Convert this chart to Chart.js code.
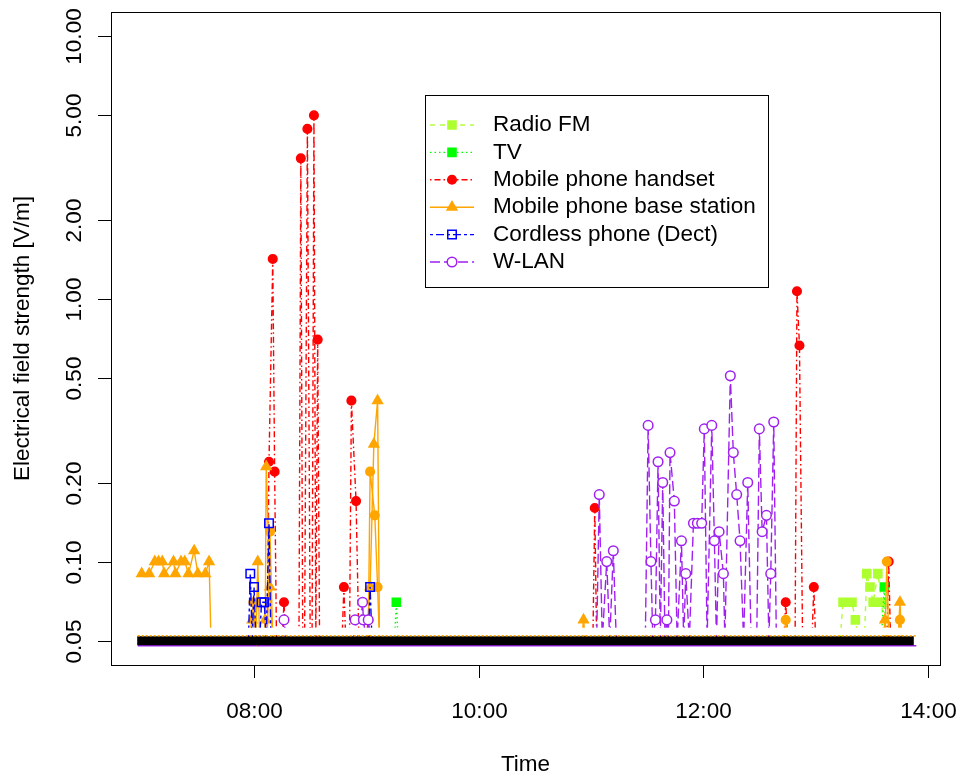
<!DOCTYPE html>
<html>
<head>
<meta charset="utf-8">
<script src="https://cdn.jsdelivr.net/npm/chart.js@4.4.1/dist/chart.umd.min.js"></script>
<style>
  html, body { margin: 0; padding: 0; background: #fff; }
  #chart { display: block; }
</style>
</head>
<body>
<canvas id="chart" width="956" height="776"></canvas>
<script>
/* ====== DATA ====== */
const yTickValues = [0.05, 0.1, 0.2, 0.5, 1, 2, 5, 10];
const yTickLabels = ['0.05', '0.10', '0.20', '0.50', '1.00', '2.00', '5.00', '10.00'];
const xTickTimes = ['08:00', '10:00', '12:00', '14:00'];

const seriesNames = ['Radio FM', 'TV', 'Mobile phone handset', 'Mobile phone base station',
  'Cordless phone (Dect)', 'W-LAN'];

// measurement span, every series sits at the 0.05 floor there
const floorTimes = ['07:00', '13:50'];
const floorValues = [0.05, 0.05];

const radioTimes = ['07:00', '13:13', '13:14:36', '13:19:24', '13:21:12', '13:23', '13:26', '13:27:18',
  '13:29', '13:30:42', '13:33:12', '13:35:24', '13:36', '13:50'];
const radioValues = [0.05, 0.05, 0.07, 0.07, 0.06, 0.05, 0.05, 0.09, 0.08, 0.07, 0.09, 0.07, 0.05, 0.05];

const tvTimes = ['07:00', '09:15', '09:16', '09:17', '13:35', '13:36:42', '13:37:30', '13:50'];
const tvValues = [0.05, 0.05, 0.07, 0.05, 0.05, 0.08, 0.05, 0.05];

const handsetTimes = ['07:00', '08:07', '08:08', '08:10', '08:11', '08:12', '08:15', '08:16', '08:17',
  '08:24', '08:25', '08:26', '08:27', '08:28:30', '08:30', '08:31', '08:32', '08:33', '08:34', '08:35',
  '08:47', '08:48', '08:49', '08:51', '08:52', '08:54:30', '08:56', '09:00', '09:01', '09:02',
  '11:01', '11:02', '11:03', '12:43', '12:44', '12:45', '12:49', '12:50', '12:51:20', '12:53',
  '12:58', '12:59', '13:00', '13:38', '13:39', '13:40', '13:50'];
const handsetValues = [0.05, 0.05, 0.24, 1.42, 0.22, 0.05, 0.05, 0.07, 0.05,
  0.05, 3.43, 0.05, 0.05, 4.44, 0.05, 0.05, 5.0, 0.05, 0.70, 0.05,
  0.05, 0.08, 0.05, 0.05, 0.41, 0.17, 0.05, 0.05, 0.06, 0.05,
  0.05, 0.16, 0.05, 0.05, 0.07, 0.05, 0.05, 1.07, 0.665, 0.05,
  0.05, 0.08, 0.05, 0.05, 0.10, 0.05, 0.05];

const baseTimes = ['07:00', '07:04', '07:07', '07:09', '07:11', '07:12', '07:17', '07:18', '07:21',
  '07:23', '07:25', '07:28', '07:30', '07:34', '07:36', '07:37', '07:57', '07:59', '08:01', '08:02',
  '08:03', '08:05', '08:06', '08:06:30', '08:08:30', '08:10', '09:00', '09:02', '09:04', '09:06',
  '09:07', '10:55', '10:56', '10:57', '13:36', '13:37', '13:38', '13:44', '13:45', '13:46', '13:50'];
const baseValues = [0.09, 0.09, 0.10, 0.10, 0.10, 0.09, 0.10, 0.09, 0.10,
  0.10, 0.09, 0.11, 0.09, 0.09, 0.10, 0.05, 0.05, 0.06, 0.05, 0.10,
  0.05, 0.05, 0.06, 0.23, 0.08, 0.05, 0.05, 0.08, 0.28, 0.41,
  0.05, 0.05, 0.06, 0.05, 0.05, 0.06, 0.05, 0.05, 0.07, 0.05, 0.05];

// orange filled dots that are not in the legend
const baseDotTimes = ['07:00', '07:58', '07:59:36', '08:01', '08:07', '08:08:30', '08:10', '09:01',
  '09:02', '09:04:30', '09:06', '09:07', '12:43', '12:44', '12:45', '13:37', '13:38', '13:39',
  '13:44', '13:45', '13:46', '13:50'];
const baseDotValues = [0.05, 0.05, 0.07, 0.05, 0.05, 0.13, 0.05, 0.05,
  0.22, 0.15, 0.08, 0.05, 0.05, 0.06, 0.05, 0.05, 0.10, 0.05,
  0.05, 0.06, 0.05, 0.05];

const dectTimes = ['07:00', '07:57', '07:58', '07:59', '08:00', '08:01', '08:03', '08:04', '08:05:30',
  '08:06:30', '08:08', '08:09', '09:01', '09:02', '09:03', '13:50'];
const dectValues = [0.05, 0.05, 0.09, 0.05, 0.08, 0.05, 0.05, 0.07, 0.07,
  0.05, 0.14, 0.05, 0.05, 0.08, 0.05, 0.05];

const wlanTimes = ['07:00', '08:15', '08:16', '08:17', '08:53', '08:54', '08:56', '08:58', '08:58:24',
  '09:00', '09:01', '09:02', '11:03', '11:04:24', '11:06', '11:08:24', '11:10', '11:11:54', '11:13:30',
  '11:29', '11:30:30', '11:32', '11:33', '11:34:24', '11:35:48', '11:37', '11:38:18', '11:39:30',
  '11:40:30', '11:41:20', '11:42:12', '11:44:30', '11:46', '11:48:18', '11:49:30', '11:50:36',
  '11:52:30', '11:54:42', '11:56:48', '11:59:06', '12:00:30', '12:02', '12:04:30', '12:05:54',
  '12:07', '12:08:24', '12:10:42', '12:11:30', '12:14:24', '12:16', '12:17:48', '12:19:36',
  '12:21:30', '12:23:42', '12:25:30', '12:28:30', '12:29:54', '12:31:24', '12:33:42', '12:35',
  '12:36', '12:37:36', '12:39', '13:50'];
const wlanValues = [0.05, 0.05, 0.06, 0.05, 0.05, 0.06, 0.05, 0.07, 0.06,
  0.05, 0.06, 0.05, 0.05, 0.18, 0.05, 0.10, 0.05, 0.11, 0.05,
  0.05, 0.33, 0.10, 0.05, 0.06, 0.24, 0.05, 0.20, 0.05,
  0.06, 0.05, 0.26, 0.17, 0.05, 0.12, 0.05, 0.09,
  0.05, 0.14, 0.14, 0.14, 0.32, 0.05, 0.33, 0.12,
  0.05, 0.13, 0.09, 0.05, 0.51, 0.26, 0.18, 0.12,
  0.05, 0.20, 0.05, 0.05, 0.32, 0.13, 0.15, 0.05,
  0.09, 0.34, 0.05, 0.05];

/* ====== HELPERS ====== */
function toMin(s) {
  const p = s.split(':').map(Number);
  return p[0] * 60 + p[1] + (p[2] || 0) / 60;
}
function pts(times, values) {
  return times.map((t, i) => ({ x: toMin(t), y: values[i] }));
}
// markers on the 0.05 floor are hidden under the black band anyway
const markerSize = (r) => (c) => (c.raw && c.raw.y <= 0.05 ? 0 : r);

const FONT = '22.5px "Liberation Sans", Arial, sans-serif';

const styles = [
  { color: '#ADFF2F', dash: [5, 5], style: 'rect', r: 5.7, fill: '#ADFF2F' },
  { color: '#00FF00', dash: [1.5, 3], style: 'rect', r: 5.7, fill: '#00FF00' },
  { color: '#FF0000', dash: [1.5, 3, 6, 3], style: 'circle', r: 4.3, fill: '#FF0000' },
  { color: '#FFA500', dash: [], style: 'triangle', r: 5.6, fill: '#FFA500' },
  { color: '#0000FF', dash: [3, 3, 8, 3], style: 'rect', r: 6, fill: 'rgba(0,0,0,0)' },
  { color: '#A020F0', dash: [10, 4], style: 'circle', r: 4.8, fill: '#FFFFFF' },
];

function lineSet(label, data, st, order) {
  return {
    label, data, order,
    borderColor: st.color,
    borderWidth: 1.4,
    borderDash: st.dash,
    pointStyle: st.style,
    pointRadius: markerSize(st.r),
    pointBackgroundColor: st.fill,
    pointBorderColor: st.color,
    pointBorderWidth: 1.5,
    pointHoverRadius: 0,
    tension: 0,
    fill: false,
  };
}

const baseDotStyle = { color: '#FFA500', dash: [], style: 'circle', r: 4.3, fill: '#FFA500' };

const datasets = [
  {
    label: 'floor', data: pts(floorTimes, floorValues), order: 0,
    borderColor: '#000', borderWidth: 9, borderCapStyle: 'square', pointRadius: 0, fill: false,
  },
  lineSet(seriesNames[0], pts(radioTimes, radioValues), styles[0], 7),
  lineSet(seriesNames[1], pts(tvTimes, tvValues), styles[1], 6),
  lineSet(seriesNames[2], pts(handsetTimes, handsetValues), styles[2], 5),
  lineSet(seriesNames[3], pts(baseTimes, baseValues), styles[3], 4),
  lineSet('base dots', pts(baseDotTimes, baseDotValues), baseDotStyle, 3),
  lineSet(seriesNames[4], pts(dectTimes, dectValues), styles[4], 2),
  lineSet(seriesNames[5], pts(wlanTimes, wlanValues), styles[5], 1),
];

/* ====== R STYLE FRAME, AXES AND LEGEND ====== */
const rFrame = {
  id: 'rFrame',
  beforeDatasetsDraw(chart) {
    // coloured rims of the marker pile-up along the floor
    const { ctx, scales: { x, y } } = chart;
    const y0 = y.getPixelForValue(0.05);
    const x0 = x.getPixelForValue(toMin(floorTimes[0])) - 4;
    const x1 = x.getPixelForValue(toMin(floorTimes[1])) + 7;
    ctx.save();
    ctx.lineWidth = 1.5;
    ctx.strokeStyle = '#A020F0';
    ctx.beginPath(); ctx.moveTo(x0, y0 + 5); ctx.lineTo(x1, y0 + 5); ctx.stroke();
    ctx.restore();
  },
  afterDatasetsDraw(chart) {
    // R's type "b" leaves a gap round the floor markers: lines stop short of the band
    const { ctx, scales: { x, y } } = chart;
    const y0 = y.getPixelForValue(0.05);
    const x0 = x.getPixelForValue(toMin(floorTimes[0])) - 6;
    const x1 = x.getPixelForValue(toMin(floorTimes[1])) + 9;
    ctx.save();
    ctx.fillStyle = '#FFFFFF';
    ctx.fillRect(x0, y0 - 13, x1 - x0, 7.5);
    ctx.lineWidth = 1.5;
    ctx.strokeStyle = '#FFA500';
    ctx.setLineDash([2, 2]);
    ctx.beginPath(); ctx.moveTo(x0 + 2, y0 - 5); ctx.lineTo(x1 - 2, y0 - 5); ctx.stroke();
    ctx.restore();
  },
  afterDraw(chart) {
    const { ctx, chartArea: a, scales: { x, y } } = chart;
    ctx.save();
    ctx.strokeStyle = '#000';
    ctx.fillStyle = '#000';
    ctx.lineWidth = 1;
    ctx.setLineDash([]);
    ctx.strokeRect(Math.round(a.left) + 0.5, Math.round(a.top) + 0.5,
      Math.round(a.right - a.left), Math.round(a.bottom - a.top));

    ctx.font = FONT;
    ctx.textAlign = 'center';
    ctx.textBaseline = 'middle';

    // x axis
    xTickTimes.forEach((t) => {
      const px = Math.round(x.getPixelForValue(toMin(t))) + 0.5;
      ctx.beginPath(); ctx.moveTo(px, a.bottom); ctx.lineTo(px, a.bottom + 13); ctx.stroke();
      ctx.fillText(t, px, 712);
    });
    ctx.fillText('Time', (a.left + a.right) / 2, 765);

    // y axis
    yTickValues.forEach((v, i) => {
      const py = Math.round(y.getPixelForValue(v)) + 0.5;
      ctx.beginPath(); ctx.moveTo(a.left, py); ctx.lineTo(a.left - 13, py); ctx.stroke();
      ctx.save();
      ctx.translate(75, py);
      ctx.rotate(-Math.PI / 2);
      ctx.fillText(yTickLabels[i], 0, 0);
      ctx.restore();
    });
    ctx.save();
    ctx.translate(23, (a.top + a.bottom) / 2);
    ctx.rotate(-Math.PI / 2);
    ctx.fillText('Electrical field strength [V/m]', 0, 0);
    ctx.restore();

    // legend
    const box = { left: 425.5, top: 95.5, right: 768.5, bottom: 287.5 };
    ctx.strokeRect(box.left, box.top, box.right - box.left, box.bottom - box.top);
    ctx.textAlign = 'left';
    seriesNames.forEach((name, i) => {
      const st = styles[i];
      const ry = 125 + i * 27.4;
      ctx.strokeStyle = st.color;
      ctx.lineWidth = 1.4;
      ctx.setLineDash(st.dash);
      ctx.beginPath(); ctx.moveTo(430, ry); ctx.lineTo(474, ry); ctx.stroke();
      ctx.setLineDash([]);
      ctx.fillStyle = st.fill;
      ctx.lineWidth = 1.5;
      Chart.helpers.drawPoint(ctx, { pointStyle: st.style, radius: st.r, borderWidth: 1.5, rotation: 0 }, 452, ry);
      ctx.fillStyle = '#000';
      ctx.fillText(name, 493, ry);
    });
    ctx.restore();
  },
};

/* ====== CHART ====== */
new Chart(document.getElementById('chart'), {
  type: 'line',
  data: { datasets },
  options: {
    responsive: false,
    animation: false,
    layout: { padding: { left: 111, right: 16, top: 12, bottom: 111 } },
    scales: {
      x: { type: 'linear', min: 403.6, max: 846.4, display: false },
      y: { type: 'logarithmic', min: 0.0404, max: 12.37, display: false },
    },
    plugins: {
      legend: { display: false },
      tooltip: { enabled: false },
    },
  },
  plugins: [rFrame],
});
</script>
</body>
</html>
